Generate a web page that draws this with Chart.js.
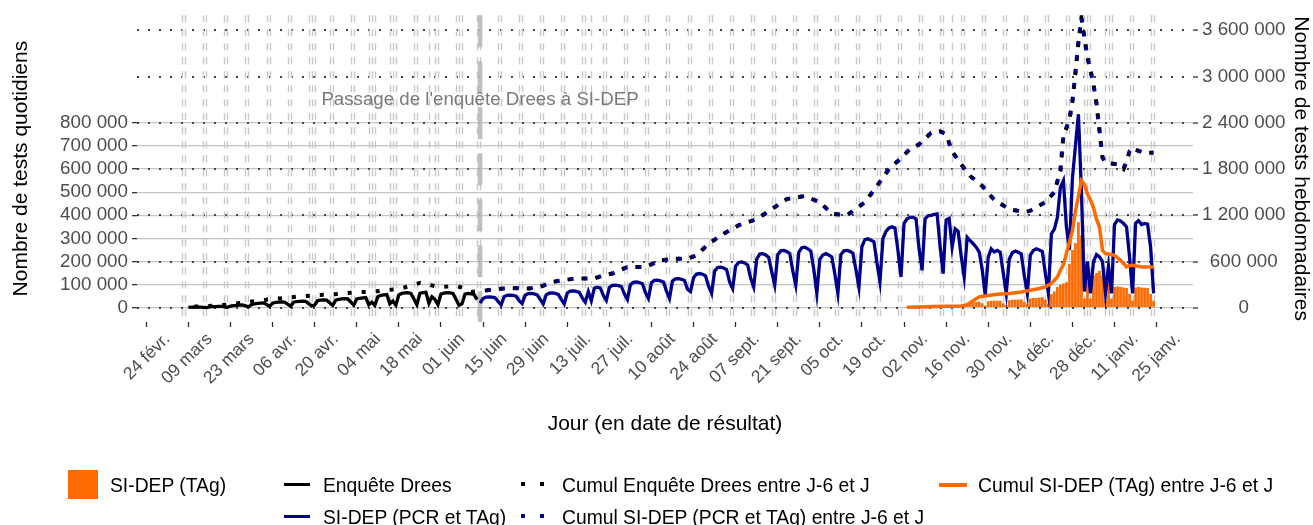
<!DOCTYPE html>
<html>
<head>
<meta charset="utf-8">
<script src="https://cdn.jsdelivr.net/npm/chart.js@4.4.1/dist/chart.umd.min.js"></script>
<style>
  body { margin: 0; background: #fff; }
  #wrap { position: relative; width: 1313px; height: 525px; overflow: hidden; }
  #chart { position: absolute; left: 0; top: 0; }
  .lg { position: absolute; font: 19.3px "Liberation Sans", Arial, sans-serif; color: #000; line-height: 22px; white-space: nowrap; }
  .key { position: absolute; }
</style>
</head>
<body>
<div id="wrap">
  <canvas id="chart" width="1313" height="525"></canvas>
  <div class="key" style="left:68px;top:470px;width:30px;height:29px;background:#ff6a00"></div>
  <div class="lg" style="left:110px;top:475px">SI-DEP (TAg)</div>
  <div class="key" style="left:284px;top:483px;width:26px;height:3px;background:#000"></div>
  <div class="lg" style="left:323px;top:475px">Enquête Drees</div>
  <div class="key" style="left:521px;top:482px;width:4px;height:4px;background:#000"></div>
  <div class="key" style="left:540px;top:482px;width:4px;height:4px;background:#000"></div>
  <div class="lg" style="left:562px;top:475px">Cumul Enquête Drees entre J-6 et J</div>
  <div class="key" style="left:939px;top:483px;width:28px;height:4px;background:#ff6a00"></div>
  <div class="lg" style="left:978px;top:475px">Cumul SI-DEP (TAg) entre J-6 et J</div>
  <div class="key" style="left:284px;top:515px;width:26px;height:3px;background:#00008b"></div>
  <div class="lg" style="left:323px;top:507px">SI-DEP (PCR et TAg)</div>
  <div class="key" style="left:521px;top:514px;width:4px;height:4px;background:#00008b"></div>
  <div class="key" style="left:540px;top:514px;width:4px;height:4px;background:#00008b"></div>
  <div class="lg" style="left:562px;top:507px">Cumul SI-DEP (PCR et TAg) entre J-6 et J</div>
</div>
<script>
// day 0 = 24 févr. 2020, values in thousands
var tickDays = [0, 14, 28, 42, 56, 70, 84, 98, 112, 126, 140, 154, 168, 182, 196, 210, 224, 238, 252, 266, 280, 294, 308, 322, 336];
var tickLabels = ['24 févr.', '09 mars', '23 mars', '06 avr.', '20 avr.', '04 mai', '18 mai', '01 juin', '15 juin', '29 juin',
  '13 juil.', '27 juil.', '10 août', '24 août', '07 sept.', '21 sept.', '05 oct.', '19 oct.', '02 nov.', '16 nov.',
  '30 nov.', '14 déc.', '28 déc.', '11 janv.', '25 janv.'];
var leftTicks = [0, 100000, 200000, 300000, 400000, 500000, 600000, 700000, 800000];
var rightTicks = [0, 600000, 1200000, 1800000, 2400000, 3000000, 3600000];

var switchDay = 104;
var holidayDays = [49, 67, 74, 87, 98, 141, 261, 305, 312];

// Enquête Drees, daily, from day 7 (lundi 2 mars)
var dreesStart = 7;
var dreesDaily = [
  2, 3, 3, 3, 3, 2, 1,
  4, 5, 5, 6, 6, 4, 2,
  7, 9, 10, 11, 12, 8, 4,
  14, 17, 19, 20, 21, 14, 6,
  20, 23, 24, 25, 24, 16, 7,
  24, 27, 28, 29, 28, 18, 8,
  12, 31, 33, 34, 33, 22, 10,
  33, 36, 38, 39, 38, 25, 11,
  38, 41, 43, 44, 13, 24, 10,
  48, 54, 56, 57, 17, 29, 11,
  56, 62, 64, 65, 62, 38, 13,
  62, 65, 67, 19, 48, 36, 13,
  59, 63, 65, 64, 62, 37, 11,
  17, 59, 62, 60, 58, 35
];

// SI-DEP (PCR et TAg), daily, from day 104 (dimanche 7 juin)
var sidepStart = 104;
var sidepDaily = [
  20,
  40, 46, 47, 46, 43, 27, 12,
  48, 54, 55, 54, 50, 31, 18,
  54, 61, 62, 60, 56, 36, 16,
  56, 63, 64, 62, 58, 36, 16,
  64, 72, 73, 71, 67, 43, 24,
  70, 30, 85, 89, 86, 54, 32,
  88, 97, 98, 96, 92, 60, 36,
  100, 110, 112, 109, 104, 66, 40,
  108, 118, 119, 116, 111, 72, 40,
  116, 125, 126, 123, 118, 80, 70,
  130, 146, 148, 145, 138, 92, 62,
  158, 174, 176, 172, 165, 112, 83,
  180, 196, 198, 194, 185, 128, 90,
  210, 232, 234, 228, 218, 155, 98,
  230, 246, 248, 243, 235, 160, 98,
  240, 260, 262, 255, 245, 165, 62,
  210, 228, 234, 228, 220, 145, 62,
  230, 246, 248, 244, 236, 165, 90,
  265, 295, 298, 292, 285, 195, 112,
  300, 330, 345, 350, 345, 245, 133,
  365, 385, 391, 391, 385, 255, 162,
  385, 398, 400, 404, 406, 265, 148,
  380, 387, 262, 341, 330, 225, 133,
  305, 290, 277, 262, 241, 165, 55,
  219, 255, 241, 248, 240, 150, 62,
  210, 238, 245, 240, 232, 138, 62,
  228, 248, 255, 250, 243, 148, 62,
  320, 340, 391, 520, 549, 350, 250,
  560, 700, 837, 500, 70, 200, 62,
  200, 230, 220, 200, 62, 180, 62,
  360, 380, 375, 365, 350, 220, 62,
  365, 377, 360, 365, 362, 262, 62
];

// SI-DEP (TAg), daily, from day 246 (mardi 27 oct.)
var tagStart = 246;
var tagDaily = [
  1, 2, 2, 3, 2, 1,
  3, 3, 4, 4, 4, 2, 1,
  4, 4, 2, 5, 5, 3, 2,
  20, 22, 25, 25, 27, 20, 10,
  28, 30, 30, 30, 30, 20, 12,
  33, 35, 35, 36, 36, 25, 15,
  40, 42, 42, 44, 45, 35, 18,
  60, 70, 90, 100, 105, 110, 190,
  250, 280, 370, 313, 40, 112, 40,
  140, 150, 160, 141, 30, 105, 40,
  90, 92, 90, 88, 85, 60, 30,
  88, 90, 88, 86, 85, 60, 30
];

// rolling 7-day totals (right axis), read at these days
var cumulDreesDays = [9, 13, 17, 21, 25, 29, 33, 37, 41, 45, 49, 53, 57, 61, 66, 70, 73, 77, 81, 84, 87, 90, 93, 96, 99, 101, 104];
var cumulDrees = [15, 20, 30, 45, 65, 85, 105, 120, 135, 150, 160, 170, 180, 195, 206, 215, 228, 245, 285, 322, 300, 270, 275, 284, 250, 206, 215];

var cumulSidepDays = [104, 105, 108, 112, 116, 120, 124, 128, 132, 136, 140, 142, 145, 148, 153, 159, 164, 169, 173, 176, 180, 185,
  190, 196, 201, 206, 212, 217, 221, 226, 232, 236, 240, 243, 247, 250, 254, 257, 259, 261, 264, 267, 271, 275, 280, 285, 287,
  292, 295, 297, 298, 300, 301, 302, 303, 304, 305, 306, 307, 308, 309, 310, 311, 312, 316, 318, 319, 320, 321, 322, 325, 328];
var cumulSidep = [215, 219, 235, 250, 255, 250, 271, 335, 360, 379, 380, 379, 420, 444, 529, 529, 615, 637, 637, 680, 831, 960,
  1070, 1150, 1280, 1410, 1450, 1370, 1220, 1200, 1370, 1580, 1800, 1905, 2060, 2120, 2270, 2290, 2250, 2030, 1860, 1710, 1580, 1400, 1280, 1240, 1260,
  1370, 1500, 1780, 2230, 2440, 2680, 3050, 3450, 3760, 3500, 3250, 3080, 2900, 2650, 2300, 1950, 1880, 1860, 1800, 1900, 2030, 2080, 2050, 2010, 2010];

var cumulTagDays = [246, 250, 255, 260, 264, 266, 268, 270, 273, 276, 280, 284, 287, 290, 292, 294, 296, 297, 298, 299, 300, 301,
  302, 303, 304, 305, 306, 307, 308, 309, 310, 311, 312, 314, 315, 317, 319, 320, 321, 324, 328];
var cumulTag = [5, 10, 15, 20, 22, 40, 90, 142, 160, 175, 186, 205, 228, 250, 271, 315, 400, 486, 560, 702, 850, 1000,
  1250, 1450, 1650, 1600, 1476, 1400, 1300, 1150, 1045, 745, 702, 690, 680, 615, 529, 545, 551, 529, 529];

var ORANGE = '#ff6a00';
var BLUE = '#00008b';
var FONT = '"Liberation Sans", Arial, sans-serif';

function daily(start, arr) {
  return arr.map(function (v, i) { return { x: start + i, y: v * 1000 }; });
}
function pairs(days, arr) {
  return arr.map(function (v, i) { return { x: days[i], y: v * 1000 }; });
}
function fmt(v) {
  return String(v).replace(/\B(?=(\d{3})+(?!\d))/g, ' ');
}

var markDays = [];
for (var d = 5; d <= 328; d += 7) { markDays.push(d, d + 1); }
markDays = markDays.concat(holidayDays);

var decor = {
  id: 'decor',
  beforeDatasetsDraw: function (chart) {
    var ctx = chart.ctx, area = chart.chartArea, xs = chart.scales.x;
    ctx.save();
    ctx.strokeStyle = '#c8c8c8';
    ctx.lineWidth = 1.4;
    ctx.setLineDash([7, 7]);
    markDays.forEach(function (day) {
      var px = Math.round(xs.getPixelForValue(day)) + 0.5;
      ctx.beginPath();
      ctx.moveTo(px, area.top);
      ctx.lineTo(px, area.bottom);
      ctx.stroke();
    });
    var sx = xs.getPixelForValue(switchDay);
    ctx.strokeStyle = 'rgba(185,185,185,0.9)';
    ctx.lineWidth = 4.5;
    ctx.setLineDash([32, 14]);
    ctx.beginPath();
    ctx.moveTo(sx, area.top);
    ctx.lineTo(sx, area.bottom);
    ctx.stroke();
    ctx.setLineDash([]);
    ctx.fillStyle = '#7a7a7a';
    ctx.font = '18.7px ' + FONT;
    ctx.textAlign = 'center';
    ctx.textBaseline = 'middle';
    ctx.fillText("Passage de l'enquête Drees à SI-DEP", sx, 100);
    ctx.restore();
  }
};

var lineBase = { type: 'line', pointRadius: 0, tension: 0, fill: false, xAxisID: 'x' };

new Chart(document.getElementById('chart').getContext('2d'), {
  type: 'line',
  data: {
    datasets: [
      { type: 'bar', label: 'SI-DEP (TAg)', data: daily(tagStart, tagDaily), backgroundColor: ORANGE,
        barPercentage: 1, categoryPercentage: 0.9, xAxisID: 'x', yAxisID: 'y', order: 6 },
      Object.assign({}, lineBase, { label: 'Enquête Drees', data: daily(dreesStart, dreesDaily),
        borderColor: '#000', borderWidth: 3.3, yAxisID: 'y', order: 5 }),
      Object.assign({}, lineBase, { label: 'SI-DEP (PCR et TAg)', data: daily(sidepStart, sidepDaily),
        borderColor: BLUE, borderWidth: 3.3, yAxisID: 'y', order: 4 }),
      Object.assign({}, lineBase, { label: 'Cumul SI-DEP (TAg) entre J-6 et J', data: pairs(cumulTagDays, cumulTag),
        borderColor: ORANGE, borderWidth: 3.5, yAxisID: 'y2', order: 3 }),
      Object.assign({}, lineBase, { label: 'Cumul Enquête Drees entre J-6 et J',
        data: pairs(cumulDreesDays, cumulDrees).concat(pairs(cumulSidepDays.slice(1), cumulSidep.slice(1))),
        borderColor: '#000', borderWidth: 4, borderDash: [4, 10], yAxisID: 'y2', order: 2 }),
      Object.assign({}, lineBase, { label: 'Cumul SI-DEP (PCR et TAg) entre J-6 et J', data: pairs(cumulSidepDays, cumulSidep),
        borderColor: BLUE, borderWidth: 4, borderDash: [4, 10], borderDashOffset: 7, yAxisID: 'y2', order: 1 })
    ]
  },
  options: {
    responsive: false,
    animation: false,
    devicePixelRatio: 1,
    layout: { padding: { top: 14, bottom: 88, left: 0, right: 0 } },
    plugins: { legend: { display: false }, tooltip: { enabled: false } },
    scales: {
      x: {
        type: 'linear', min: -10.08, max: 341.1, offset: false,
        afterBuildTicks: function (s) { s.ticks = tickDays.map(function (v) { return { value: v }; }); },
        afterFit: function (s) { s.height = 115; },
        ticks: {
          autoSkip: false, minRotation: 45, maxRotation: 45, color: '#4d4d4d', padding: 2,
          font: { size: 17.5, family: FONT },
          callback: function (v) { return tickLabels[tickDays.indexOf(v)]; }
        },
        grid: { drawOnChartArea: false, tickLength: 5, tickColor: '#333', tickWidth: 1.3 },
        border: { display: false },
        title: { display: true, text: 'Jour (en date de résultat)', color: '#000', font: { size: 21, family: FONT }, padding: 0 }
      },
      y: {
        type: 'linear', position: 'left', min: -61600, max: 1265000,
        afterBuildTicks: function (s) { s.ticks = leftTicks.map(function (v) { return { value: v }; }); },
        afterFit: function (s) { s.width = 137; },
        ticks: { color: '#4d4d4d', padding: 4, font: { size: 18.8, family: FONT }, callback: fmt },
        grid: { color: '#c4c4c4', lineWidth: 1.3, tickLength: 5, tickColor: '#333', tickWidth: 1.3, z: -2 },
        border: { display: false },
        title: { display: true, text: 'Nombre de tests quotidiens', color: '#000', font: { size: 21, family: FONT }, padding: { top: 9, bottom: 0 } }
      },
      y2: {
        type: 'linear', position: 'right', min: -184800, max: 3795000,
        afterBuildTicks: function (s) { s.ticks = rightTicks.map(function (v) { return { value: v }; }); },
        afterFit: function (s) { s.width = 120; },
        ticks: { color: '#4d4d4d', padding: 4, crossAlign: 'center', font: { size: 18.8, family: FONT }, callback: fmt },
        grid: { color: '#444', lineWidth: 2, tickLength: 5, tickColor: '#333', tickWidth: 1.3, z: -1 },
        border: { display: false, dash: [2, 9] },
        title: { display: true, text: 'Nombre de tests hebdomadaires', color: '#000', font: { size: 21, family: FONT }, padding: { top: 0, bottom: 0 } }
      }
    }
  },
  plugins: [decor]
});
</script>
</body>
</html>
